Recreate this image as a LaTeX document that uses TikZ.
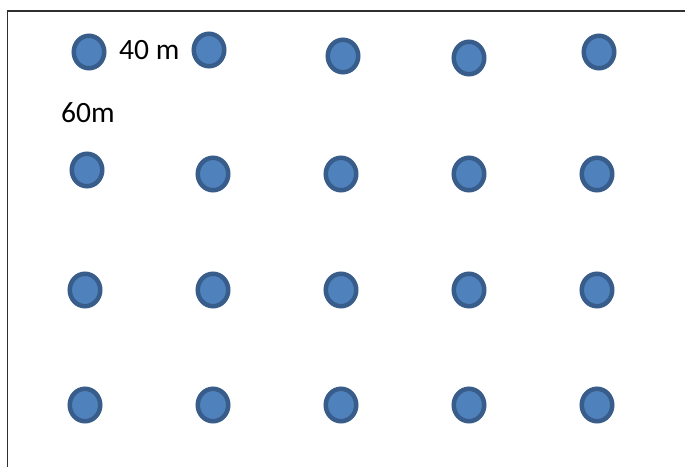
\documentclass[tikz,border=0pt]{standalone}
\usepackage{fontspec}
\setmainfont{Carlito}
\usepackage{tikz}
\usetikzlibrary{shapes.geometric}
\definecolor{wellBlue}{HTML}{4F81BD}
\definecolor{wellRim}{HTML}{385D8A}
\definecolor{frameGray}{HTML}{303030}

\tikzset{
  well/.style={ellipse, draw=wellRim, fill=wellBlue, line width=4.5pt,
    minimum width=30.5pt, minimum height=32.5pt, inner sep=0pt},
  dist/.style={anchor=base west, inner sep=0pt, font=\fontsize{29.5}{35}\selectfont}
}

\begin{document}
\begin{tikzpicture}[x=1pt, y=-1pt]
  \useasboundingbox (0,0) rectangle (685,466);
  \clip (0,0) rectangle (685,466);
  \fill[white] (0,0) rectangle (685,466);
  \draw[frameGray, line width=1.3pt] (7.5,11) rectangle (720,500);

  % first row, set by hand
  \node[well] (w11) at (89,52) {};
  \node[well] (w12) at (209,50) {};
  \node[well] (w13) at (343,56) {};
  \node[well] (w14) at (469,58) {};
  \node[well] (w15) at (599,52) {};

  % second row
  \node[well] (w21) at (87,170) {};
  \node[well] (w22) at (213,174) {};
  \node[well] (w23) at (341,174) {};
  \node[well] (w24) at (469,174) {};
  \node[well] (w25) at (597,174) {};

  % third and fourth rows
  \foreach \r/\y in {3/290, 4/405} {
    \node[well] (w\r1) at (85,\y) {};
    \node[well] (w\r2) at (213,\y) {};
    \node[well] (w\r3) at (341,\y) {};
    \node[well] (w\r4) at (469,\y) {};
    \node[well] (w\r5) at (597,\y) {};
  }

  \node[dist] (dx) at (119,59) {40 m};
  \node[dist] (dy) at (61,122) {60m};
\end{tikzpicture}
\end{document}
